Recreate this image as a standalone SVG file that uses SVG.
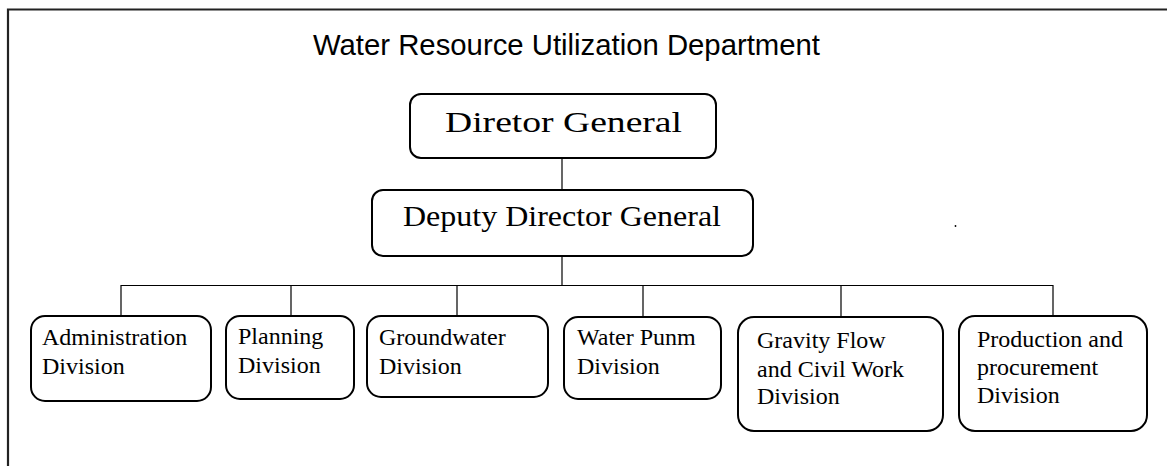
<svg xmlns="http://www.w3.org/2000/svg" width="1167" height="466" viewBox="0 0 1167 466">
<style>
.box{fill:#fff;stroke:#000;stroke-width:2}
.ln{fill:none;stroke:#000;stroke-width:1.2}
.t{font-family:"Liberation Serif","Times New Roman",serif;font-size:24px;fill:#000}
.big{font-family:"Liberation Serif","Times New Roman",serif;font-size:30px;fill:#000}
.title{font-family:"Liberation Sans",Arial,sans-serif;font-size:29px;fill:#000}
</style>
<rect width="1167" height="466" fill="#fff"/>
<path d="M8,470 V9.5 H1170" fill="none" stroke="#222" stroke-width="2.2"/>
<text class="title" x="313" y="55" textLength="507" lengthAdjust="spacingAndGlyphs">Water Resource Utilization Department</text>
<g id="connectors">
<path class="ln" d="M562,158 V190"/>
<path class="ln" d="M562,256 V285" stroke-width="2"/>
<path class="ln" d="M121,285.5 H1053"/>
<path class="ln" d="M121,285 V316 M291,285 V316 M457,285 V316 M643,285 V317 M841,285 V317 M1053,285 V316"/>
</g>
<g id="director">
<rect class="box" x="410" y="94" width="306" height="64" rx="11"/>
<text class="big" x="445" y="132" font-size="31" textLength="237" lengthAdjust="spacingAndGlyphs">Diretor General</text>
</g>
<g id="deputy">
<rect class="box" x="372" y="190" width="381" height="66" rx="11"/>
<text class="big" x="403" y="226" textLength="318" lengthAdjust="spacingAndGlyphs">Deputy Director General</text>
</g>
<g id="admin">
<rect class="box" x="31" y="316" width="180" height="85" rx="14"/>
<text class="t" x="42" y="345">Administration</text>
<text class="t" x="42" y="374">Division</text>
</g>
<g id="planning">
<rect class="box" x="226" y="316" width="128" height="83" rx="14"/>
<text class="t" x="238" y="344">Planning</text>
<text class="t" x="238" y="373">Division</text>
</g>
<g id="groundwater">
<rect class="box" x="367" y="316" width="181" height="81" rx="14"/>
<text class="t" x="379" y="345">Groundwater</text>
<text class="t" x="379" y="374">Division</text>
</g>
<g id="waterpump">
<rect class="box" x="564" y="317" width="157" height="82" rx="14"/>
<text class="t" x="577" y="345">Water Punm</text>
<text class="t" x="577" y="374">Division</text>
</g>
<g id="gravity">
<rect class="box" x="738" y="317" width="205" height="114" rx="16"/>
<text class="t" x="757" y="348">Gravity Flow</text>
<text class="t" x="757" y="377">and Civil Work</text>
<text class="t" x="757" y="404">Division</text>
</g>
<g id="production">
<rect class="box" x="959" y="316" width="188" height="115" rx="16"/>
<text class="t" x="977" y="347">Production and</text>
<text class="t" x="977" y="375">procurement</text>
<text class="t" x="977" y="403">Division</text>
</g>
<circle cx="955.5" cy="226" r="0.9" fill="#000"/>
</svg>
